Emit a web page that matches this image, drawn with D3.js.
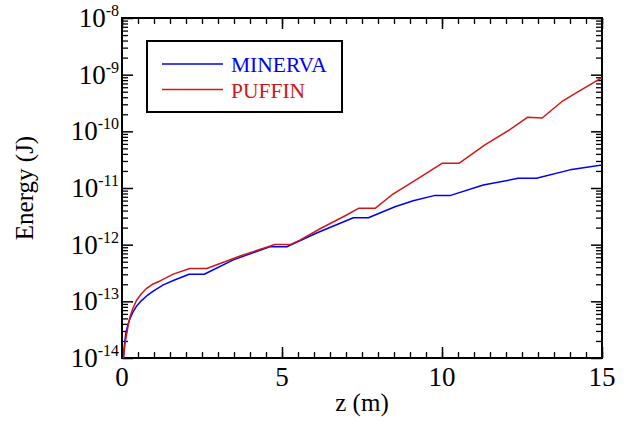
<!DOCTYPE html>
<html>
<head>
<meta charset="utf-8">
<script src="https://cdn.jsdelivr.net/npm/d3@7"></script>
<style>
  html, body { margin: 0; padding: 0; background: #fff; }
  svg { display: block; }
</style>
</head>
<body>
<svg id="chart" width="624" height="421" font-family="'Liberation Serif', Tinos, serif"></svg>
<script>
// ---- data ----
const seriesNames = ["MINERVA", "PUFFIN"];
const zMinerva = [0.04, 0.08, 0.12, 0.18, 0.25, 0.35, 0.46, 0.60, 0.77, 1.00, 1.29, 1.66, 2.10, 2.57, 3.48, 4.62, 5.15, 6.10, 7.23, 7.70, 8.53, 9.10, 9.78, 10.27, 11.29, 12.38, 12.95, 14.0, 15.0];
const eMinerva = [1.0e-14, 1.78e-14, 2.75e-14, 3.8e-14, 5.0e-14, 6.6e-14, 8.3e-14, 1.02e-13, 1.245e-13, 1.55e-13, 1.95e-13, 2.4e-13, 3.0e-13, 3.0e-13, 5.4e-13, 9.2e-13, 9.2e-13, 1.62e-12, 2.99e-12, 2.99e-12, 4.68e-12, 5.97e-12, 7.41e-12, 7.41e-12, 1.13e-11, 1.48e-11, 1.48e-11, 2.09e-11, 2.55e-11];
const zPuffin = [0.05, 0.09, 0.15, 0.20, 0.25, 0.35, 0.46, 0.60, 0.77, 0.95, 1.19, 1.60, 2.12, 2.65, 3.69, 4.78, 5.27, 5.56, 6.19, 7.02, 7.39, 7.91, 8.43, 9.21, 10.0, 10.53, 11.34, 12.13, 12.67, 13.13, 13.74, 14.31, 15.0];
const ePuffin = [1.0e-14, 1.74e-14, 2.72e-14, 3.98e-14, 5.37e-14, 7.76e-14, 1.057e-13, 1.35e-13, 1.70e-13, 2.0e-13, 2.29e-13, 3.02e-13, 3.8e-13, 3.8e-13, 6.3e-13, 1.01e-12, 1.01e-12, 1.20e-12, 1.91e-12, 3.34e-12, 4.37e-12, 4.37e-12, 7.53e-12, 1.42e-11, 2.72e-11, 2.72e-11, 5.75e-11, 1.08e-10, 1.77e-10, 1.72e-10, 3.33e-10, 5.21e-10, 8.85e-10];
const xTickLabels = [0, 5, 10, 15];
const yTickExponents = [-14, -13, -12, -11, -10, -9, -8];
const xLabel = "z (m)";
const yLabel = "Energy (J)";

// ---- layout ----
const L = 122, R = 602, T = 18, B = 358;
const colors = ["#0000f0", "#d01818"];

const svg = d3.select("#chart");
const x = d3.scaleLinear().domain([0, 15]).range([L, R]);
const y = d3.scaleLog().domain([1e-14, 1e-8]).range([B, T]);

const majorY = yTickExponents.map(e => Math.pow(10, e));
const minorY = [];
yTickExponents.slice(0, -1).forEach(e => { for (let k = 2; k <= 9; k++) minorY.push(k * Math.pow(10, e)); });
const minorX = d3.range(0, 15.001, 0.5);

function styleAxis(g, w) {
  g.select(".domain").remove();
  g.selectAll(".tick line").attr("stroke", "#000").attr("stroke-width", w);
  g.selectAll(".tick text").remove();
}

// ticks (inside, mirrored)
svg.append("g").attr("transform", `translate(0,${B})`).call(d3.axisBottom(x).tickValues(minorX).tickSize(-6)).call(g => styleAxis(g, 1.3));
svg.append("g").attr("transform", `translate(0,${B})`).call(d3.axisBottom(x).tickValues(xTickLabels).tickSize(-11)).call(g => styleAxis(g, 1.5));
svg.append("g").attr("transform", `translate(0,${T})`).call(d3.axisTop(x).tickValues(minorX).tickSize(-6)).call(g => styleAxis(g, 1.3));
svg.append("g").attr("transform", `translate(0,${T})`).call(d3.axisTop(x).tickValues(xTickLabels).tickSize(-11)).call(g => styleAxis(g, 1.5));
svg.append("g").attr("transform", `translate(${L},0)`).call(d3.axisLeft(y).tickValues(minorY).tickSize(-6)).call(g => styleAxis(g, 1.3));
svg.append("g").attr("transform", `translate(${L},0)`).call(d3.axisLeft(y).tickValues(majorY).tickSize(-11)).call(g => styleAxis(g, 1.5));
svg.append("g").attr("transform", `translate(${R},0)`).call(d3.axisRight(y).tickValues(minorY).tickSize(-6)).call(g => styleAxis(g, 1.3));
svg.append("g").attr("transform", `translate(${R},0)`).call(d3.axisRight(y).tickValues(majorY).tickSize(-11)).call(g => styleAxis(g, 1.5));

// frame
svg.append("rect").attr("x", L).attr("y", T).attr("width", R - L).attr("height", B - T)
  .attr("fill", "none").attr("stroke", "#000").attr("stroke-width", 2);

// x tick labels
svg.append("g").selectAll("text").data(xTickLabels).join("text")
  .attr("x", d => x(d)).attr("y", 386).attr("text-anchor", "middle")
  .attr("font-size", 27).attr("fill", "#000").text(d => d);

// y tick labels
const yl = svg.append("g").selectAll("text").data(yTickExponents).join("text")
  .attr("x", 119).attr("y", d => y(Math.pow(10, d)) + 9).attr("text-anchor", "end")
  .attr("fill", "#000");
yl.append("tspan").attr("font-size", 27).text("10");
yl.append("tspan").attr("font-size", 16).attr("dy", -11).text(d => "-" + Math.abs(d));

// axis titles
svg.append("text").attr("x", 362).attr("y", 411).attr("text-anchor", "middle")
  .attr("font-size", 25).attr("fill", "#000").text(xLabel);
svg.append("text").attr("transform", `translate(33,${(T + B) / 2}) rotate(-90)`)
  .attr("text-anchor", "middle").attr("font-size", 25).attr("fill", "#000").text(yLabel);

// curves
svg.append("clipPath").attr("id", "clip").append("rect")
  .attr("x", L).attr("y", T).attr("width", R - L).attr("height", B - T);
const line = d3.line().x(d => x(d[0])).y(d => y(d[1]));
const series = [d3.zip(zMinerva, eMinerva), d3.zip(zPuffin, ePuffin)];
svg.append("g").attr("clip-path", "url(#clip)").selectAll("path").data(series).join("path")
  .attr("d", line).attr("fill", "none").attr("stroke-linejoin", "round")
  .attr("stroke", (d, i) => colors[i]).attr("stroke-width", 1.5);

// legend
const lg = svg.append("g");
lg.append("rect").attr("x", 147).attr("y", 41).attr("width", 195).attr("height", 71)
  .attr("fill", "#fff").attr("stroke", "#000").attr("stroke-width", 2);
const legY = [64, 89.5];
seriesNames.forEach((n, i) => {
  lg.append("line").attr("x1", 162).attr("x2", 223).attr("y1", legY[i]).attr("y2", legY[i])
    .attr("stroke", colors[i]).attr("stroke-width", 1.4);
  lg.append("text").attr("x", 231).attr("y", legY[i] + 8).attr("font-size", 21.5)
    .attr("fill", colors[i]).text(n);
});
</script>
</body>
</html>
